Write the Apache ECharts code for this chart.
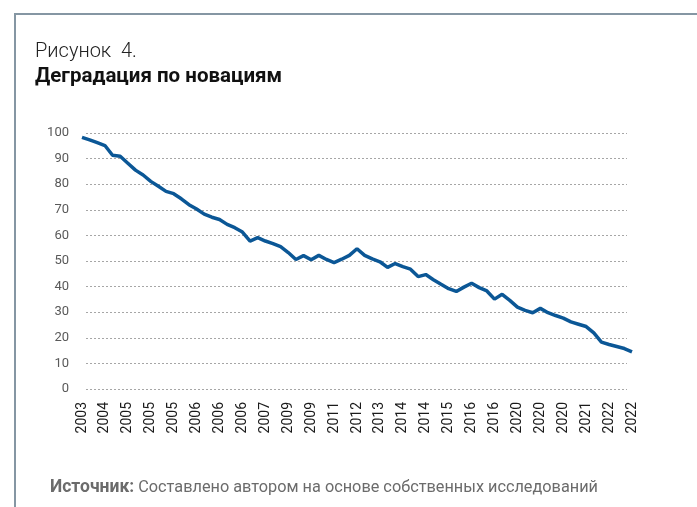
<!DOCTYPE html>
<html>
<head>
<meta charset="utf-8">
<script src="https://cdn.jsdelivr.net/npm/echarts@6/dist/echarts.min.js"></script>
<style>
  html, body { margin: 0; padding: 0; background: #fff; }
  #chart { width: 697px; height: 507px; }
</style>
</head>
<body>
<div id="chart"></div>
<script>
// подписи оси X (каждая третья точка)
let yearLabels = ['2003', '2004', '2005', '2005', '2005', '2006', '2006', '2006', '2007', '2009',
    '2009', '2011', '2012', '2013', '2014', '2014', '2015', '2016', '2016', '2020',
    '2020', '2020', '2021', '2022', '2022']

// индекс деградации
let values = [98.3, 97.3, 96.2, 95.1, 91.3, 90.9, 88.2, 85.5, 83.6, 81.1,
    79.2, 77.2, 76.3, 74.3, 72.0, 70.3, 68.3, 67.1, 66.2, 64.3,
    63.0, 61.3, 57.8, 59.1, 57.8, 56.8, 55.6, 53.3, 50.6, 52.1,
    50.5, 52.2, 50.6, 49.4, 50.7, 52.2, 54.8, 52.2, 50.8, 49.7,
    47.5, 49.0, 47.8, 46.8, 43.9, 44.7, 42.7, 40.9, 39.2, 38.1,
    39.8, 41.3, 39.6, 38.3, 35.1, 37.0, 34.6, 32.0, 30.7, 29.8,
    31.5, 29.8, 28.7, 27.7, 26.2, 25.3, 24.4, 21.9, 18.3, 17.4,
    16.6, 15.8, 14.5]

let categories = values.map((v, i) => i % 3 === 0 ? yearLabels[i / 3] : '')

let chart = echarts.init(document.getElementById('chart'))

let option = {
    animation: false,
    graphic: [
        // рамка
        {
            type: 'polyline',
            shape: { points: [[15, 507], [15, 14], [697, 14]] },
            style: { stroke: '#8596a3', lineWidth: 2, fill: null }
        },
        {
            type: 'text',
            left: 35,
            top: 42,
            style: {
                text: 'Рисунок  4.',
                font: '300 20px Roboto',
                fill: '#222'
            }
        },
        {
            type: 'text',
            left: 35,
            top: 66,
            style: {
                text: 'Деградация по новациям',
                font: 'bold 20.5px Roboto',
                fill: '#111'
            }
        },
        {
            type: 'text',
            left: 50,
            top: 479,
            style: {
                text: '{b|Источник:} Составлено автором на основе собственных исследований',
                font: '16.3px Roboto',
                fill: '#6b6b6b',
                rich: {
                    b: { fontWeight: 'bold', fontSize: 17.5, fontFamily: 'Roboto', fill: '#6b6b6b' }
                }
            }
        }
    ],
    grid: [
        { left: 82, right: 65, top: 133, height: 256 },
        { left: 86, right: 70, top: 133, height: 256 }
    ],
    xAxis: [{
        type: 'category',
        gridIndex: 0,
        data: categories,
        boundaryGap: false,
        axisLine: { show: false },
        axisTick: { show: false },
        axisLabel: {
            interval: 2,
            rotate: 90,
            margin: 13,
            color: '#1a1a1a',
            fontSize: 14,
            fontFamily: 'Roboto'
        }
    }, {
        type: 'value',
        gridIndex: 1,
        show: false
    }],
    yAxis: [{
        type: 'value',
        gridIndex: 0,
        min: 0,
        max: 100,
        interval: 10,
        show: false
    }, {
        type: 'value',
        gridIndex: 1,
        min: 0,
        max: 100,
        interval: 10,
        axisLine: { show: false },
        axisTick: { show: false },
        axisLabel: {
            margin: 17,
            color: '#595959',
            fontSize: 13,
            fontFamily: 'Roboto'
        },
        splitLine: {
            lineStyle: {
                color: '#a6a6a6',
                type: [2, 2],
                width: 1
            }
        }
    }],
    series: [{
        type: 'line',
        xAxisIndex: 0,
        yAxisIndex: 0,
        data: values,
        symbol: 'none',
        lineStyle: {
            color: '#0b5796',
            width: 3.5
        }
    }]
}

chart.setOption(option)
</script>
</body>
</html>
